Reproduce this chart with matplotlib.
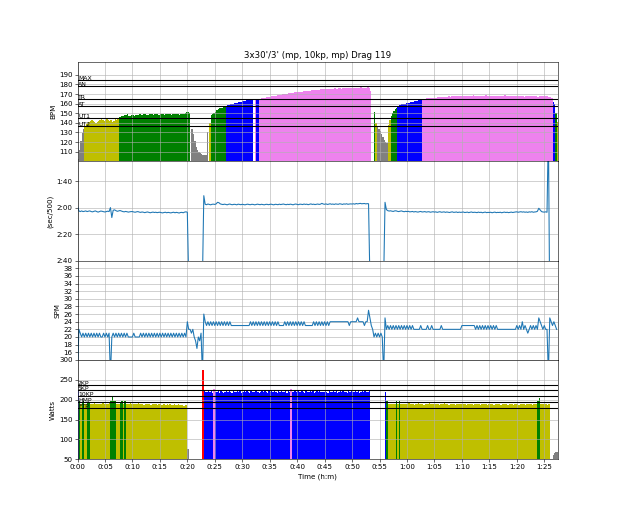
import numpy as np
import matplotlib
matplotlib.use("Agg")
import matplotlib.pyplot as plt
from matplotlib.ticker import FuncFormatter

nan = np.nan
title = "3x30'/3' (mp, 10kp, mp) Drag 119"
dt = 0.25  # minutes between samples

# ---------------- heart rate (bpm), one value per 0.25 min ----------------
hr_rows = [
    [102,112,121,129,134,137,139,140,141,142,143,142,141,140,141,142,143,144,143,142],
    [143,144,143,142,143,141,142,144,143,144,146,146,147,147,148,148,149,147,147,148],
    [148,147,148,148,148,149,148,148,149,149,148,148,149,149,149,148,149,149,149,148],
    [149,149,149,148,149,149,149,149,148,149,149,149,149,149,148,149,149,149,150,151],
    [151,150,nan,134,128,121,115,112,110,109,108,107,106,107,130,nan,140,148,149,150],
    [151,153,154,155,156,156,157,157,158,159,159,160,160,160,161,161,161,162,162,162],
    [163,163,163,164,164,164,164,164,nan,165,164,164,165,165,166,166,166,167,167,167],
    [167,168,168,168,168,169,169,169,169,170,170,170,170,171,171,171,171,171,172,172],
    [172,172,172,172,173,173,173,173,173,173,174,174,174,174,174,174,174,175,175,175],
    [175,175,175,175,175,175,175,176,175,175,176,176,175,176,176,176,176,176,176,176],
    [176,176,176,176,176,176,177,176,176,176,176,177,176,173,nan,nan,151,140,136,134],
    [131,128,125,122,120,119,138,143,147,150,152,154,156,158,159,159,160,160,160,161],
    [161,161,162,162,162,163,163,163,164,164,164,165,165,165,166,166,166,166,166,166],
    [166,166,167,167,167,167,167,167,167,167,168,167,168,168,168,168,168,168,168,168],
    [168,168,168,168,168,168,168,168,169,168,168,168,168,168,168,168,168,169,168,168],
    [168,168,168,168,168,168,168,168,168,168,168,169,168,168,168,168,168,168,168,168],
    [168,168,168,168,168,167,168,168,168,168,168,168,168,168,168,167,168,168,168,168],
    [168,168,168,167,167,166,162,160,150,141],
]

# ---------------- pace (seconds per 500 m) ----------------
pace_rows = [
    [119,122.5,123,122.5,123,122.8,122.5,123,122.7,122.5,123,123.2,122.8,122.5,123,123.4,123,122.6,122.8,123.1],
    [123.3,123,122.7,123,120,127.5,122,121.7,122.3,122.8,122.5,122.2,122.6,123,123.2,122.9,123.1,123.4,123.2,123],
    [123,123.3,123.5,123.2,123,123.4,123.6,123.3,123.5,123.8,123.5,123.3,123.6,123.9,123.6,123.4,123.7,123.5,123.8,123.6],
    [123.5,123.8,124,123.7,123.5,123.9,123.6,123.8,124,123.7,123.5,123.9,123.6,123.8,124.1,123.7,123.6,123.9,123.4,123.2],
    [123.5,175,nan,nan,nan,nan,nan,nan,nan,nan,nan,175,111,117.5,117.8,117.3,117.6,117.9,117.5,117.4],
    [117.6,117.2,116,116.3,117.2,117.5,117.7,117.4,117.6,117.9,117.5,117.3,117.7,117.8,117.5,117.6,117.9,117.4,117.6,117.8],
    [117.5,117.7,117.9,117.6,117.4,117.7,117.8,117.5,117.6,117.9,117.7,117.4,117.6,117.8,117.5,117.7,117.9,117.6,117.5,117.8],
    [117.6,117.4,117.7,117.9,117.5,117.6,117.8,117.4,117.7,117.5,117.3,117.6,117.8,117.5,117.7,117.4,117.6,117.9,117.5,117.3],
    [117.6,117.8,117.4,117.5,117.7,117.3,117.6,117.4,117.8,117.5,117.2,117.6,117.4,117.7,117.5,117.3,117.6,117.4,116.8,117.3],
    [117.5,117.2,117.6,117.4,117.1,117.5,117.3,117.6,117.2,117.4,117.5,117.1,117.3,117.6,117.2,117.4,117.1,117.5,117.3,117.2],
    [117.3,117.1,117.4,116.9,117.2,117,116.8,117.1,117,116.9,117.2,117,117.1,175,nan,nan,nan,nan,nan,nan],
    [nan,nan,nan,175,116,121.5,122.3,122.6,122.4,122.7,122.9,122.5,122.4,122.8,123,122.7,122.5,122.9,123.1,122.8],
    [123,122.8,123.2,123.1,122.9,123.3,123,123.2,123.4,123.1,122.9,123.3,123.2,123,123.4,123.2,123.1,123.5,123.3,123.1],
    [123.4,123.2,123.6,123.3,123.1,123.5,123.4,123.2,123.6,123.3,123.5,123.7,123.4,123.2,123.6,123.5,123.3,123.7,123.4,123.6],
    [123.5,123.3,123.7,123.6,123.4,123.8,123.5,123.3,123.7,123.5,123.6,123.8,123.4,123.7,123.5,123.9,123.6,123.4,123.8,123.6],
    [123.7,123.5,123.9,123.6,123.4,123.8,123.6,123.7,123.5,123.9,123.6,123.4,123.7,123.5,123.8,123.6,123.4,123.7,123.5,123.3],
    [123.2,123.5,123.3,123.1,123.4,123.2,123.5,123.3,123.6,123.2,123.4,123.1,123.5,123.3,123.2,122.8,120.5,121.8,123,123.3],
    [123.4,123.2,123.5,60,200,nan,nan,nan,nan,nan],
]

# ---------------- stroke rate (spm) ----------------
spm_rows = [
    [10,22,21,20,21,20,21,20,21,20,21,20,21,20,21,20,21,20,20,21],
    [20,21,20,21,10,20,21,20,21,20,21,20,21,20,21,20,21,20,20,20],
    [20,21,20,20,20,20,21,20,21,20,21,20,21,20,21,20,21,20,21,20],
    [21,20,21,20,21,20,21,20,21,20,21,20,21,20,21,20,21,20,21,20],
    [24,22,22,21,22,20,19,17,20,19,21,10,26,24,23,24,23,24,23,24],
    [23,24,23,24,23,24,23,24,23,24,23,24,23,23,23,23,23,23,23,23],
    [23,23,23,23,23,23,24,23,24,23,24,23,24,23,24,23,24,23,24,23],
    [24,23,24,23,24,23,24,23,23,23,23,24,23,24,23,24,23,24,23,24],
    [23,24,23,24,23,24,23,23,23,23,23,23,24,23,24,23,24,23,24,23],
    [24,23,24,23,24,24,24,24,24,24,24,24,24,24,24,24,24,24,23,24],
    [24,24,24,24,25,24,24,24,24,23,24,24,27,25,23,22,20,21,20,21],
    [20,21,20,10,25,22,23,22,23,22,23,22,23,22,23,22,23,22,23,22],
    [23,22,23,22,23,22,22,22,22,22,23,22,22,22,22,23,22,22,23,22],
    [22,22,22,22,22,23,22,22,22,22,22,22,22,22,22,22,22,22,22,22],
    [23,23,23,23,23,23,23,23,23,23,22,23,22,23,22,23,22,23,22,23],
    [22,23,22,23,22,23,22,22,22,22,22,22,22,22,22,22,22,22,22,22],
    [23,22,23,22,24,22,23,22,21,22,23,22,23,22,23,22,25,24,23,22],
    [23,22,22,10,25,24,23,24,23,22],
]

# ---------------- power (W) ----------------
power_rows = [
    [222,196,189,195,196,190,188,195,194,189,190,188,191,189,190,188,190,189,191,189],
    [190,188,189,191,197,208,196,197,189,190,188,195,196,189,196,188,190,189,191,188],
    [189,190,188,189,191,188,189,190,187,189,188,190,189,187,188,190,188,189,187,188],
    [188,187,189,188,186,188,187,189,187,186,188,187,186,188,187,186,187,185,186,187],
    [75,nan,nan,nan,nan,nan,nan,nan,nan,nan,nan,275,221,220,218,221,219,222,217,227],
    [220,218,221,217,222,219,216,220,223,218,221,219,217,222,220,218,221,219,223,217],
    [220,222,218,221,219,217,222,220,218,221,223,219,217,220,222,218,221,219,217,222],
    [219,221,218,222,220,217,221,219,223,218,220,222,217,221,219,227,220,218,222,219],
    [221,218,220,222,219,217,221,220,218,222,219,221,217,220,222,218,221,219,220,218],
    [222,219,217,221,220,218,222,219,221,217,220,222,218,221,219,220,217,222,219,221],
    [220,218,222,219,221,217,220,222,218,221,219,220,221,nan,nan,nan,nan,nan,nan,nan],
    [nan,nan,nan,nan,218,197,189,190,188,189,190,188,196,189,197,189,190,188,189,190],
    [189,191,188,190,189,187,190,189,191,188,190,189,187,190,188,189,191,188,190,189],
    [188,190,189,187,190,188,189,191,188,190,187,189,190,188,189,187,190,189,188,190],
    [189,188,190,187,189,190,188,189,187,190,189,188,190,187,189,188,190,189,187,188],
    [190,188,189,187,190,189,188,190,187,189,188,190,189,187,188,190,189,187,189,188],
    [189,187,190,188,189,190,187,189,188,190,189,187,188,190,189,196,204,189,188,190],
    [188,189,187,188,nan,nan,60,66,67,67],
]

hr_lines = [185, 178, 165, 158, 145, 137]
hr_line_labels = ["MAX", "AN", "TR", "AT", "UT1", "UT2"]
pw_lines = [238, 224, 209, 193, 180]
pw_line_labels = ["2KP", "5KP", "10KP", "HMP", "FTP"]
zone_colors = ["gray", "y", "g", "blue", "violet", "red"]

x_ticks = list(range(0, 90, 5))
hr_ticks = list(range(110, 200, 10))
pace_ticks = [100, 120, 140, 160]
spm_ticks = list(range(16, 40, 2))
pw_ticks = list(range(50, 301, 50))

hr = np.array(sum(hr_rows, []), dtype=float)
pace = np.array(sum(pace_rows, []), dtype=float)
spm = np.array(sum(spm_rows, []), dtype=float)
power = np.array(sum(power_rows, []), dtype=float)
t = np.arange(len(hr)) * dt


def zone_bars(ax, values, thresholds):
    ok = np.isfinite(values)
    thr = sorted(thresholds)
    zones = np.searchsorted(thr, values[ok], side="right")
    ax.bar(t[ok], values[ok], width=dt, align="edge",
           color=[zone_colors[z] for z in zones], linewidth=0,
           antialiased=False)


def hm(x, pos):
    return "%d:%02d" % (int(x // 60), int(round(x % 60)))


fig, axes = plt.subplots(4, 1, figsize=(12, 516 / (620 / 12)), dpi=620 / 12)
fig.subplots_adjust(left=0.125, right=0.9, top=0.88, bottom=0.11, hspace=0)
ax1, ax2, ax3, ax4 = axes

# HR
zone_bars(ax1, hr, hr_lines)
for v, lab in zip(hr_lines, hr_line_labels):
    ax1.axhline(v, color="k")
    ax1.text(0.1, v, lab, fontsize=8.5)
ax1.set_ylim(100, 203.5)
ax1.set_yticks(hr_ticks)
ax1.set_ylabel("BPM")
ax1.set_title(title)

# Pace
ax2.plot(t, pace)
ax2.set_ylim(160, 85)
ax2.set_yticks(pace_ticks)
ax2.yaxis.set_major_formatter(FuncFormatter(hm))
ax2.set_ylabel("(sec/500)")

# SPM
ax3.plot(t, spm)
ax3.set_ylim(14, 40)
ax3.set_yticks(spm_ticks)
ax3.set_ylabel("SPM")

# Power
zone_bars(ax4, power, pw_lines)
for v, lab in zip(pw_lines, pw_line_labels):
    ax4.axhline(v, color="k")
    ax4.text(0.1, v, lab, fontsize=8.5)
ax4.set_ylim(50, 300)
ax4.set_yticks(pw_ticks)
ax4.set_ylabel("Watts")
ax4.set_xlabel("Time (h:m)")

for ax in axes:
    ax.set_xlim(0, 87.5)
    ax.set_xticks(x_ticks)
    ax.xaxis.set_major_formatter(FuncFormatter(hm))
    ax.grid(True)
for ax in axes[:3]:
    ax.tick_params(labelbottom=False)

fig.savefig("out.png")
